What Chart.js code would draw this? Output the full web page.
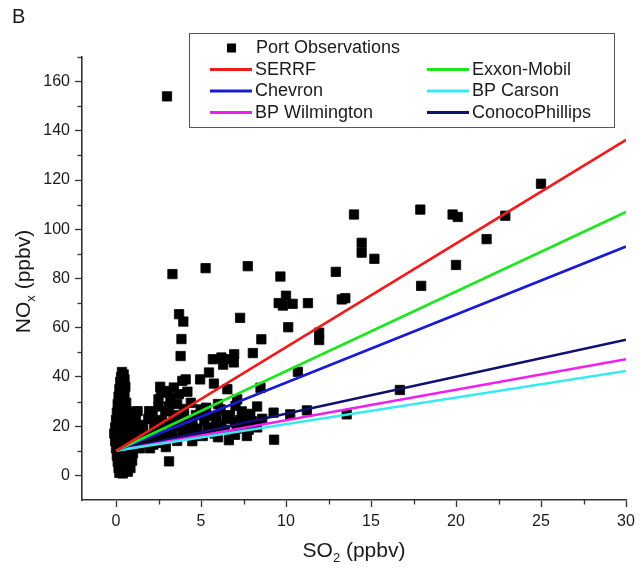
<!DOCTYPE html>
<html><head><meta charset="utf-8">
<script src="https://cdn.jsdelivr.net/npm/chart.js@4/dist/chart.umd.min.js"></script>
<style>html,body{margin:0;padding:0;background:#fff;}#wrap{position:relative;width:640px;height:575px;}</style>
</head><body><div id="wrap"><canvas id="c" width="640" height="575"></canvas></div>
<script>
// Scattered observations (SO2, NOx)
const spreadX = [
3.0,25.0,17.9,19.8,20.1,22.9,14.0,21.8,14.45,14.45,
15.2,20.0,17.95,16.7,7.75,5.27,3.32,9.67,12.93,10.0,
9.57,9.82,10.39,11.29,13.28,13.49,10.13,11.95,11.95,8.55,
8.05,10.7,8.5,8.3,13.57,9.27,10.25,11.23,9.3,7.3,
3.71,3.96,3.85,3.8,5.7,6.2,6.75,6.95,6.93,6.3,
5.47,4.95,4.1,5.76,6.55,3.9,6.64,2.93,3.12,4.49,
7.13,7.03,4.98,6.15,5.57,7.4,7.6,8.0,7.9,5.2,
5.9,6.5,7.0,7.5,6.2,2.64,2.5,3.03,3.4,3.2,
2.6,3.7,4.2,2.5,3.1,3.6,4.0,2.15,0.98,1.17,
1.27,1.95,1.56,2.25,1.9,2.6,1.46,1.2,1.5,1.8,
2.1,2.4,1.1,1.4,1.7,2.0,2.8,2.3,2.6,1.0,
4.5,4.8,5.0,5.6,5.9,7.1,4.2,3.8,4.0,3.5,
3.3,3.0,5.1,6.0,7.0,7.8,8.1,8.6,3.6,3.3,
4.3,4.7,5.4,5.8,6.4,6.7,7.3,7.7,8.3,3.9,
3.4,2.9,2.2,1.3,1.6,1.9,2.7,1.05,4.6,5.3,
6.0,4.4];
const spreadY = [
154,118.5,108,106,105,105.5,106,96,94.5,90.5,
88,85.5,77,34.7,85,84.2,81.8,80.8,82.7,73,
70,69,69.7,70,71.5,72,60.2,58,55,55.3,
49.7,42.1,35.6,28,24.8,25.5,24.8,26.4,14.5,64,
65.5,62.5,55.4,48.5,47.2,47.9,47.2,49.2,45.9,45,
41.8,39,39,37.3,35,38.4,14.3,11.5,5.7,13.9,
30.9,28.2,26.8,26.8,24.1,26,23.5,22,25,22,
21,23,21.5,20.5,20.2,33.6,30.9,34.3,35.7,31.6,
36,33,34,28,28,29,27,25.5,25.7,22.4,
26.1,26.1,18.7,20,16,13.2,13.9,18,16,14,
15,17,12,11,13,11,16,22,19,9,
22,19,25,18,23.5,19,17,20,24,22,
18,21,16,15.5,16.5,18.5,21,23,14,15.5,
20,24.5,19.5,17,18.5,24.5,22.5,16,19.5,16.5,
24.5,26,12.5,14.5,20.5,23,22.5,16,16,27.5,
29,29.5];
// Dense column of observations near SO2 = 0
const nearZeroX = [
0.35,0.45,0.3,0.5,0.25,0.4,0.55,0.2,0.35,0.5,0.15,0.3,0.45,
0.6,0.1,0.25,0.4,0.55,0.7,
0.05,0.2,0.35,0.5,0.65,0.8,
0.0,0.15,0.3,0.45,0.6,0.75,0.9,
-0.05,0.1,0.25,0.4,0.55,0.7,0.85,1.0,
-0.1,0.05,0.2,0.35,0.5,0.65,0.8,0.95,
-0.05,0.1,0.25,0.4,0.55,0.7,0.85,
0.0,0.15,0.3,0.45,0.6,0.75,0.9,
0.05,0.2,0.35,0.5,0.65,0.8,
0.1,0.25,0.4,0.55,0.7,
0.15,0.3,0.45,0.6,
0.2,0.4,0.7,0.85,0.95];
const nearZeroY = [
42,41,40,39,38,37,36,35,34,33,32,31,30,
29.5,29,28,27,26.5,26,
25.5,25,24,23.5,23,24.5,
22.5,22,21,20.5,20,21.5,22,
19.5,19,18.5,18,17.5,18.5,19,20,
17,16.5,16,15.5,15,16,16.5,17,
14,13.5,13,12.5,12,13,14,
11,10.5,10,9.5,9,10,11,
8,7.5,7,6.5,7,8,
5.5,5,4.5,4,5,
3,2.5,2,2.5,
1,0.8,1.5,3,6];

// Regression lines (from SO2 = 0 to 30)
const fitNames  = ['SERRF','Exxon-Mobil','Chevron','BP Carson','BP Wilmington','ConocoPhillips'];
const fitX      = [0, 30];
const fitStartY = [10, 10, 10, 10, 10, 10];
const fitEndY   = [136.3, 107, 93, 42.4, 47.2, 55.1];
const fitColors = ['#ee1c1c','#1ee61e','#1a1ad2','#38eaf0','#f01ef0','#10106e'];

const xTicks = [0, 5, 10, 15, 20, 25, 30];
const yTicks = [0, 20, 40, 60, 80, 100, 120, 140, 160];
const xMinorTicks = [2.5, 7.5, 12.5, 17.5, 22.5, 27.5];
const yMinorTicks = [10, 30, 50, 70, 90, 110, 130, 150, 170];

const FONT = "'Liberation Sans', Arial, sans-serif";
const AXIS = '#333';

const obsPoints = spreadX.map((x, i) => ({x, y: spreadY[i]}))
  .concat(nearZeroX.map((x, i) => ({x, y: nearZeroY[i]})));

const datasets = [{
  label: 'Port Observations',
  data: obsPoints,
  pointStyle: 'rect',
  pointRadius: 6.6,
  backgroundColor: '#000',
  borderColor: '#000',
  borderWidth: 0.8,
  order: 10
}];
fitNames.forEach((n, i) => {
  datasets.push({
    label: n,
    data: fitX.map((x, k) => ({x, y: k === 0 ? fitStartY[i] : fitEndY[i]})),
    showLine: true,
    pointRadius: 0,
    borderColor: fitColors[i],
    backgroundColor: fitColors[i],
    borderWidth: 2.6,
    order: 1
  });
});

function drawRich(ctx, parts, size, cx, cy) {
  const subSize = Math.round(size * 0.62);
  let w = 0;
  parts.forEach(p => {
    ctx.font = (p.sub ? subSize : size) + 'px ' + FONT;
    p.w = ctx.measureText(p.t).width; w += p.w;
  });
  let x = cx - w / 2;
  ctx.textBaseline = 'middle';
  ctx.textAlign = 'left';
  parts.forEach(p => {
    ctx.font = (p.sub ? subSize : size) + 'px ' + FONT;
    ctx.fillText(p.t, x, p.sub ? cy + size * 0.33 : cy);
    x += p.w;
  });
}

const decorPlugin = {
  id: 'decor',
  afterDraw(chart) {
    const ctx = chart.ctx;
    const xs = chart.scales.x, ys = chart.scales.y;
    const ca = chart.chartArea;
    ctx.save();
    // minor ticks
    ctx.strokeStyle = AXIS; ctx.lineWidth = 1.3;
    xMinorTicks.forEach(v => {
      const px = Math.round(xs.getPixelForValue(v)) + 0.5;
      ctx.beginPath(); ctx.moveTo(px, ca.bottom); ctx.lineTo(px, ca.bottom + 4.5); ctx.stroke();
    });
    yMinorTicks.forEach(v => {
      const py = Math.round(ys.getPixelForValue(v)) + 0.5;
      ctx.beginPath(); ctx.moveTo(ca.left, py); ctx.lineTo(ca.left - 4.5, py); ctx.stroke();
    });
    // axis titles
    ctx.fillStyle = '#1a1a1a';
    drawRich(ctx, [{t:'SO'},{t:'2', sub:true},{t:' (ppbv)'}], 21, (ca.left + ca.right) / 2, 551);
    ctx.save();
    ctx.translate(24, (ca.top + ca.bottom) / 2 + 3);
    ctx.rotate(-Math.PI / 2);
    drawRich(ctx, [{t:'NO'},{t:'x', sub:true},{t:' (ppbv)'}], 21, 0, 0);
    ctx.restore();
    // panel letter
    ctx.font = '20px ' + FONT; ctx.textAlign = 'left'; ctx.textBaseline = 'top';
    ctx.fillText('B', 12, 7);
    // legend
    const L = 189, T = 33, R = 614, B = 127;
    ctx.fillStyle = '#fff'; ctx.fillRect(L, T, R - L, B - T);
    ctx.strokeStyle = '#555'; ctx.lineWidth = 1;
    ctx.strokeRect(L + 0.5, T + 0.5, R - L, B - T);
    ctx.font = '18px ' + FONT; ctx.textBaseline = 'middle'; ctx.textAlign = 'left';
    const rowY = [48, 69.5, 91, 112.5];
    ctx.fillStyle = '#000';
    ctx.fillRect(227, rowY[0] - 4.5, 9, 9);
    ctx.fillStyle = '#1a1a1a';
    ctx.fillText(datasets[0].label, 256, rowY[0] + 0.5);
    const slots = [[0,0],[1,0],[0,1],[1,1],[0,2],[1,2]];
    fitNames.forEach((name, k) => {
      const col = slots[k][0], row = slots[k][1] + 1;
      const lx = col === 0 ? 210 : 427;
      const y = rowY[row];
      ctx.strokeStyle = fitColors[k]; ctx.lineWidth = 2.8;
      ctx.beginPath(); ctx.moveTo(lx, y); ctx.lineTo(lx + 42, y); ctx.stroke();
      ctx.fillStyle = '#1a1a1a';
      ctx.fillText(name, lx + 45, y + 0.5);
    });
    ctx.restore();
  }
};

new Chart(document.getElementById('c'), {
  type: 'scatter',
  data: { datasets },
  options: {
    responsive: false,
    animation: false,
    devicePixelRatio: 1,
    layout: { padding: { top: 57, right: 14, left: 0, bottom: 0 } },
    plugins: { legend: { display: false }, tooltip: { enabled: false } },
    scales: {
      x: {
        type: 'linear', min: -2, max: 30,
        afterBuildTicks: s => { s.ticks = xTicks.map(v => ({value: v})); },
        afterFit: s => { s.height = 75; s.paddingLeft = 0; s.paddingRight = 0; },
        grid: { drawOnChartArea: false, drawTicks: true, tickLength: 7, tickColor: AXIS, tickWidth: 1.3 },
        border: { display: true, color: AXIS, width: 1.6 },
        ticks: { color: '#1a1a1a', font: { family: FONT, size: 16 }, padding: 5, maxRotation: 0, autoSkip: false }
      },
      y: {
        type: 'linear', min: -10, max: 170,
        afterBuildTicks: s => { s.ticks = yTicks.map(v => ({value: v})); },
        afterFit: s => { s.width = 82; s.paddingTop = 0; s.paddingBottom = 0; },
        grid: { drawOnChartArea: false, drawTicks: true, tickLength: 7, tickColor: AXIS, tickWidth: 1.3 },
        border: { display: true, color: AXIS, width: 1.6 },
        ticks: { color: '#1a1a1a', font: { family: FONT, size: 16 }, padding: 5, autoSkip: false }
      }
    }
  },
  plugins: [decorPlugin]
});
</script></body></html>
